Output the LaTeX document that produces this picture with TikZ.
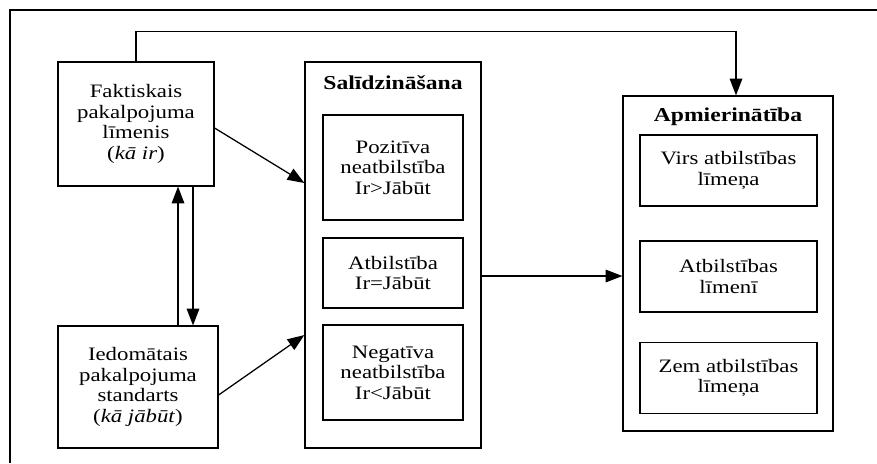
\documentclass[tikz,border=0pt]{standalone}
\usepackage{fontspec}
\setmainfont{Liberation Serif}[FakeStretch=1.2]
\usetikzlibrary{arrows.meta, positioning, calc}

\begin{document}
\begin{tikzpicture}[
  x=0.025cm, y=-0.025cm,
  box/.style={draw, line width=0.8pt, align=center, inner sep=2pt,
    font=\fontsize{13.5}{14.5}\selectfont},
  frame/.style={draw, line width=0.8pt},
  head/.style={font=\fontsize{14}{15}\selectfont\bfseries},
  link/.style={-{Triangle[length=12pt, width=9pt]}, line width=0.9pt}
]
  \useasboundingbox (0,0) rectangle (877,463);
  \draw[line width=0.8pt] (10,463) -- (10,10) -- (877,10);

  % levo puse
  \node[box, minimum width=3.9cm, minimum height=3.1cm] (fakt) at (136,124)
    {Faktiskais\\pakalpojuma\\līmenis\\(\textit{kā ir})};
  \node[box, minimum width=4.0cm, minimum height=3.05cm] (iedom) at (138,387)
    {Iedomātais\\pakalpojuma\\standarts\\(\textit{kā jābūt})};

  % salidzinasana
  \node[frame, minimum width=4.4cm, minimum height=9.65cm] (sal) at (393,255) {};
  \node[head] (saltit) at (393,83) {Salīdzināšana};
  \node[box, minimum width=3.5cm, minimum height=2.625cm] (poz) at (393,167.5)
    {Pozitīva\\neatbilstība\\Ir>Jābūt};
  \node[box, minimum width=3.5cm, minimum height=1.75cm] (atb) at (393,273)
    {Atbilstība\\Ir=Jābūt};
  \node[box, minimum width=3.5cm, minimum height=2.375cm] (neg) at (393,372.5)
    {Negatīva\\neatbilstība\\Ir<Jābūt};

  % apmierinatiba
  \node[frame, minimum width=5.25cm, minimum height=8.375cm] (apm) at (728,263.5) {};
  \node[head] (apmtit) at (728,117) {Apmierinātība};
  \node[box, minimum width=4.425cm, minimum height=1.775cm] (virs) at (728.5,170.5)
    {Virs atbilstības\\līmeņa};
  \node[box, minimum width=4.425cm, minimum height=1.775cm] (atbl) at (728.5,276.5)
    {Atbilstības\\līmenī};
  \node[box, minimum width=4.425cm, minimum height=1.775cm] (zem) at (728.5,378)
    {Zem atbilstības\\līmeņa};

  \draw[link] ([yshift=-0.1cm]fakt.east) -- ([yshift=1.8cm]sal.west);
  \draw[link] ([yshift=-0.2cm]iedom.east) -- ([yshift=-2cm]sal.west);
  \draw[link] ([xshift=1cm]iedom.north) -- ([xshift=1cm]iedom.north |- fakt.south);
  \draw[link] ([xshift=1.425cm]fakt.south) -- ([xshift=1.425cm]fakt.south |- iedom.north);
  \draw[link] ([yshift=-0.525cm]sal.east) -- ([yshift=-0.525cm]sal.east -| apm.west);
  \draw[link] (fakt.north) -- ++(0,-30) -| ([xshift=0.2cm]apm.north);
\end{tikzpicture}
\end{document}
